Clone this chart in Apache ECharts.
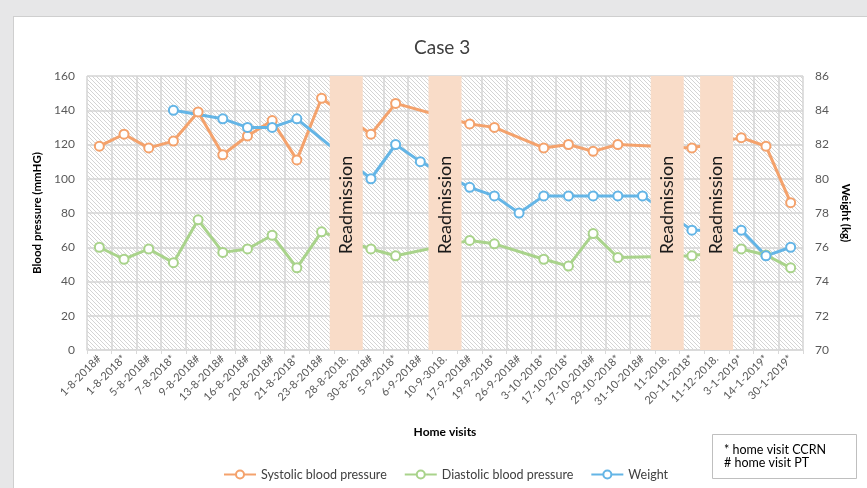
<!DOCTYPE html>
<html>
<head>
<meta charset="utf-8">
<script src="https://cdn.jsdelivr.net/npm/echarts@6/dist/echarts.min.js"></script>
<style>
html,body{margin:0;padding:0;background:#e7e7e8;}
#wrap{position:relative;width:867px;height:488px;overflow:hidden;background:#e7e7e8;}
#card{position:absolute;left:13px;top:16px;width:870px;height:480px;background:#fff;border:1px solid #cfcfcf;box-sizing:border-box;}
#chart{position:absolute;left:0;top:0;width:867px;height:488px;}
</style>
</head>
<body>
<div id="wrap"><div id="card"></div><div id="chart"></div></div>
<script>
const categories = ["1-8-2018#","1-8-2018*","5-8-2018#","7-8-2018*","9-8-2018#","13-8-2018#","16-8-2018#","20-8-2018#","21-8-2018*","23-8-2018#","28-8-2018.","30-8-2018#","5-9-2018*","6-9-2018#","10-9-3018.","17-9-2018#","19-9-2018*","26-9-2018#","3-10-2018*","17-10-2018*","17-10-2018#","29-10-2018*","31-10-2018#","11-2018.","20-11-2018*","11-12-2018.","3-1-2019*","14-1-2019*","30-1-2019*"];
const systolic = [119,126,118,122,139,114,125,134,111,147,null,126,144,null,null,132,130,null,118,120,116,120,null,null,118,null,124,119,86];
const diastolic = [60,53,59,51,76,57,59,67,48,69,null,59,55,null,null,64,62,null,53,49,68,54,null,null,55,null,59,55.5,48];
const weight = [null,null,null,84,null,83.5,83,83,83.5,null,null,80,82,81,null,79.5,79,78,79,79,79,79,79,null,77,null,77,75.5,76];
const readmission = [null,null,null,null,null,null,null,null,null,null,160,null,null,null,160,null,null,null,null,null,null,null,null,160,null,160,null,null,null];
const bpTicks = {min:0,max:160,interval:20};
const wtTicks = {min:70,max:86,interval:2};

// hatched pattern for plot background
const pc = document.createElement('canvas');
pc.width = 4; pc.height = 4;
const g = pc.getContext('2d');
g.fillStyle = '#ffffff'; g.fillRect(0,0,4,4);
g.strokeStyle = '#d4d4d4'; g.lineWidth = 1;
g.beginPath(); g.moveTo(-1,-1); g.lineTo(5,5); g.stroke();
g.beginPath(); g.moveTo(-1,3); g.lineTo(1,5); g.stroke();
g.beginPath(); g.moveTo(3,-1); g.lineTo(5,1); g.stroke();

const FONT = 'Lato, "Open Sans", sans-serif';
const orange = '#f4a26c', green = '#a9d38b', blue = '#64b5e6';

function lineSeries(name, data, color, axis){
  return {name, type:'line', data, yAxisIndex:axis, connectNulls:true, z:2,
    symbol:'emptyCircle', symbolSize:9,
    lineStyle:{color, width:3},
    itemStyle:{color, borderWidth:2},
    emphasis:{disabled:true}};
}

const chart = echarts.init(document.getElementById('chart'), null, {renderer:'canvas'});
chart.setOption({
  backgroundColor:'transparent',
  animation:false,
  textStyle:{fontFamily:FONT},
  title:{text:'Case 3', left:409, top:33, textStyle:{fontFamily:FONT, fontSize:19, fontWeight:'normal', color:'#404040'}},
  grid:{left:87, right:64, top:76, bottom:138, show:true, borderWidth:0,
    backgroundColor:{image:pc, repeat:'repeat'}},
  legend:{data:['Systolic blood pressure','Diastolic blood pressure','Weight'], left:218, top:463,
    itemWidth:32, itemHeight:10, itemGap:17,
    textStyle:{fontFamily:FONT, fontSize:12.5, color:'#404040'}},
  xAxis:{type:'category', data:categories, boundaryGap:true,
    name:'Home visits', nameLocation:'middle', nameGap:76,
    nameTextStyle:{fontFamily:FONT, fontSize:12, fontWeight:'bold', color:'#000'},
    axisLine:{lineStyle:{color:'#d9d9d9', width:1.5}},
    axisTick:{show:true, length:4, lineStyle:{color:'#d9d9d9'}},
    splitLine:{show:true, lineStyle:{color:'#d4d4d4', width:1.5}},
    axisLabel:{rotate:45, fontSize:11, color:'#595959', margin:7, interval:0, fontFamily:FONT}},
  yAxis:[
    {type:'value', min:bpTicks.min, max:bpTicks.max, interval:bpTicks.interval,
     name:'Blood pressure (mmHG)', nameLocation:'middle', nameGap:33, nameRotate:90,
     nameTextStyle:{fontFamily:FONT, fontSize:11.5, fontWeight:'bold', color:'#000'},
     axisLine:{show:false}, axisTick:{show:false},
     splitLine:{show:true, lineStyle:{color:'#d4d4d4', width:1.5}},
     axisLabel:{fontSize:12, color:'#595959', margin:12, fontFamily:FONT}},
    {type:'value', min:wtTicks.min, max:wtTicks.max, interval:wtTicks.interval, position:'right',
     name:'Weight (kg)', nameLocation:'middle', nameGap:32, nameRotate:-90,
     nameTextStyle:{fontFamily:FONT, fontSize:11.5, fontWeight:'bold', color:'#000'},
     axisLine:{show:false}, axisTick:{show:false}, splitLine:{show:false},
     axisLabel:{fontSize:12, color:'#595959', margin:12, fontFamily:FONT}}
  ],
  series:[
    lineSeries('Systolic blood pressure', systolic, orange, 0),
    lineSeries('Diastolic blood pressure', diastolic, green, 0),
    lineSeries('Weight', weight, blue, 1),
    {name:'Readmission', type:'bar', data:readmission, yAxisIndex:0, barWidth:33, z:5,
     itemStyle:{color:'#f9dcc8'}, emphasis:{disabled:true},
     label:{show:true, position:'inside', rotate:90, offset:[8,0], formatter:'Readmission',
       fontFamily:FONT, fontSize:18, color:'#1a1a1a'}}
  ],
  graphic:[
    {type:'rect', shape:{x:712.5, y:434.5, width:144, height:44}, style:{fill:'#fff', stroke:'#bfbfbf', lineWidth:1}},
    {type:'text', x:724, y:450, style:{text:'* home visit CCRN', font:'normal 12.5px Lato', fill:'#000', verticalAlign:'middle'}},
    {type:'text', x:724, y:463, style:{text:'# home visit PT', font:'normal 12.5px Lato', fill:'#000', verticalAlign:'middle'}}
  ]
});
</script>
</body>
</html>
